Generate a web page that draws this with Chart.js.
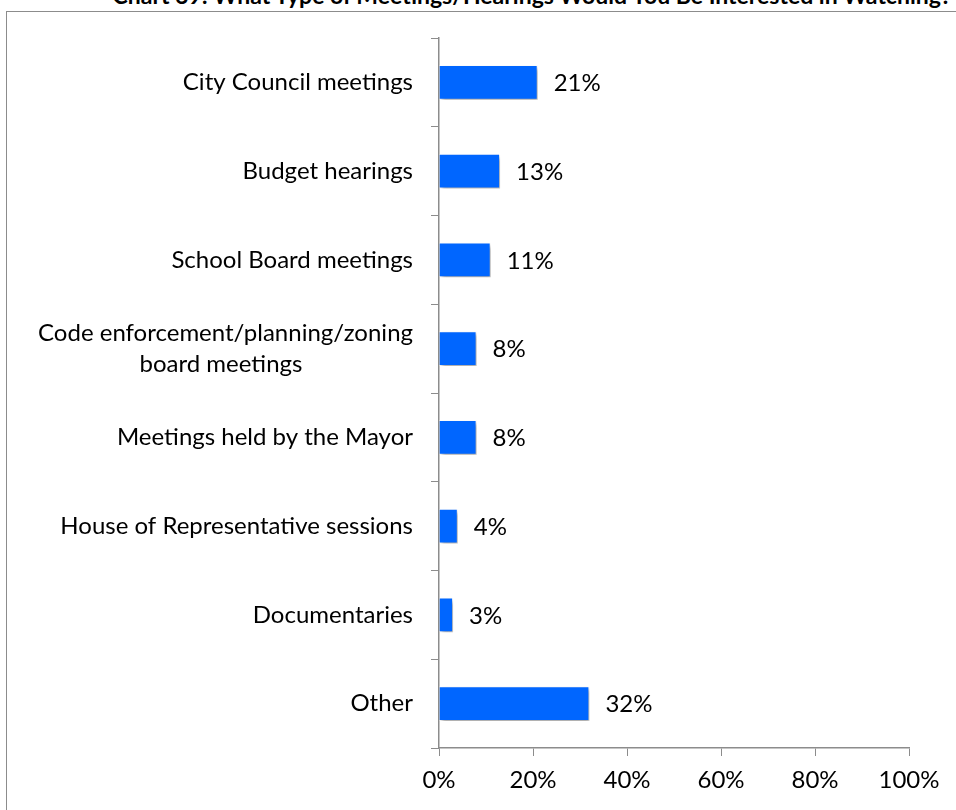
<!DOCTYPE html>
<html>
<head>
<meta charset="utf-8">
<script src="https://cdn.jsdelivr.net/npm/chart.js@4.4.1/dist/chart.umd.min.js"></script>
<style>
  html, body { margin: 0; padding: 0; background: #fff; overflow: hidden; }
  #wrap { position: relative; width: 956px; height: 810px; }
  #frame { position: absolute; left: 6px; top: 11px; width: 1000px; height: 900px; border: 1px solid #8c8c8c; box-sizing: border-box; }
  #title { position: absolute; left: 0; top: -19px; width: 1064px; text-align: center;
           font: bold 23px Lato, sans-serif; color: #000; white-space: nowrap; }
  canvas { position: absolute; left: 0; top: 0; }
</style>
</head>
<body>
<div id="wrap">
  <div id="frame"></div>
  <div id="title">Chart 39: What Type of Meetings/Hearings Would You Be Interested in Watching?</div>
  <canvas id="myChart" width="956" height="810"></canvas>
</div>
<script>
var categorias = [
    'City Council meetings',
    'Budget hearings',
    'School Board meetings',
    ['Code enforcement/planning/zoning', 'board meetings' + '\u00a0'.repeat(18)],
    'Meetings held by the Mayor',
    'House of Representative sessions',
    'Documentaries',
    'Other'
];
var valores = [21, 13, 11, 8, 8, 4, 3, 32];
var ticksX = [0, 20, 40, 60, 80, 100];

var fuente = 'Lato, sans-serif';

// etiquetas de porcentaje al final de cada barra
var etiquetas = {
    id: 'etiquetas',
    afterDatasetsDraw: function(chart) {
        var ctx = chart.ctx;
        var meta = chart.getDatasetMeta(0);
        ctx.save();
        ctx.font = '24px ' + fuente;
        ctx.fillStyle = '#000';
        ctx.textAlign = 'left';
        ctx.textBaseline = 'middle';
        meta.data.forEach(function(bar, i) {
            ctx.fillText(valores[i] + '%', bar.x + 16, bar.y + 1);
        });
        ctx.restore();
    }
};

// sombra de las barras
var sombra = {
    id: 'sombra',
    beforeDatasetsDraw: function(chart) {
        var ctx = chart.ctx;
        ctx.save();
        ctx.shadowColor = 'rgba(0,0,0,0.35)';
        ctx.shadowOffsetX = 2;
        ctx.shadowOffsetY = 3;
        ctx.shadowBlur = 4;
    },
    afterDatasetsDraw: function(chart) {
        chart.ctx.restore();
    }
};

var ctx = document.getElementById('myChart').getContext('2d');

var graphData = {
    type: 'bar',
    data: {
        labels: categorias,
        datasets: [{
            data: valores,
            backgroundColor: '#0066ff',
            borderColor: '#ffffff',
            borderWidth: 1,
            borderSkipped: 'start',
            categoryPercentage: 1,
            barPercentage: 0.39
        }]
    },
    options: {
        indexAxis: 'y',
        responsive: false,
        animation: false,
        layout: { padding: { left: 0, right: 47, top: 38, bottom: 0 } },
        plugins: {
            legend: { display: false },
            tooltip: { enabled: false }
        },
        scales: {
            x: {
                min: 0,
                max: 100,
                afterBuildTicks: function(scale) {
                    scale.ticks = ticksX.map(function(v) { return { value: v }; });
                },
                afterFit: function(scale) { scale.height = 62; },
                grid: {
                    display: true,
                    drawOnChartArea: false,
                    drawTicks: true,
                    tickLength: 8,
                    color: '#8c8c8c'
                },
                border: { color: '#8c8c8c', width: 1.5 },
                ticks: {
                    padding: 10,
                    color: '#000',
                    font: { family: fuente, size: 24 },
                    callback: function(v) { return v + '%'; }
                }
            },
            y: {
                afterFit: function(scale) { scale.width = 439; },
                grid: {
                    display: true,
                    drawOnChartArea: false,
                    drawTicks: true,
                    tickLength: 8,
                    offset: true,
                    color: '#8c8c8c'
                },
                border: { color: '#8c8c8c', width: 1.5 },
                ticks: {
                    padding: 18,
                    color: '#000',
                    font: { family: fuente, size: 24, lineHeight: 1.3 }
                }
            }
        }
    },
    plugins: [sombra, etiquetas]
};

var myChart = new Chart(ctx, graphData);
</script>
</body>
</html>
